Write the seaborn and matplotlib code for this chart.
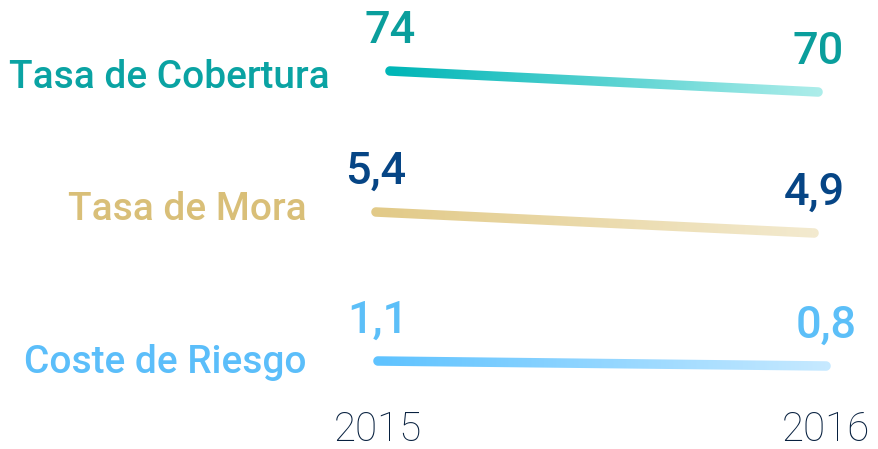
import numpy as np
import pandas as pd
import seaborn as sns
import matplotlib
matplotlib.use("Agg")
import matplotlib.pyplot as plt
from matplotlib.colors import LinearSegmentedColormap, Normalize
from matplotlib.patches import PathPatch
from matplotlib.path import Path
from matplotlib.transforms import IdentityTransform

# ---------------- data ----------------
years = [2015, 2016]
year_labels = ["2015", "2016"]
metrics = ["Tasa de Cobertura", "Tasa de Mora", "Coste de Riesgo"]
cobertura = [74, 70]
mora = [5.4, 4.9]
riesgo = [1.1, 0.8]
cobertura_labels = ["74", "70"]
mora_labels = ["5,4", "4,9"]
riesgo_labels = ["1,1", "0,8"]

# ---------------- style ----------------
sns.set_theme(style="white")
plt.rcParams["font.family"] = ["Roboto", "DejaVu Sans"]

W, H = 879, 449
DPI = 100
fig = plt.figure(figsize=(W / DPI, H / DPI), dpi=DPI)
fig.patch.set_facecolor("white")

rows = [
    dict(name=metrics[0], vals=cobertura, labels=cobertura_labels,
         px=(390, 818), py=(71, 92), label_right=330, label_base=88,
         text_color="#0AA3A3", val_color="#0A9E9C",
         c0="#00B6B7", c1="#ACEDEA"),
    dict(name=metrics[1], vals=mora, labels=mora_labels,
         px=(376, 814), py=(212, 233), label_right=307, label_base=220,
         text_color="#D9BF78", val_color="#064585",
         c0="#E2CA88", c1="#F3EACF"),
    dict(name=metrics[2], vals=riesgo, labels=riesgo_labels,
         px=(378, 826), py=(361, 366), label_right=307, label_base=373,
         text_color="#5BBEFA", val_color="#5CBFF8",
         c0="#5FC3FF", c1="#C6E9FF"),
]

LW_PX = 9.5
for i, r in enumerate(rows):
    x0, x1 = r["px"]
    ytop, ybot = min(r["py"]), max(r["py"])
    ax = fig.add_axes([x0 / W, 1 - ybot / H, (x1 - x0) / W, (ybot - ytop) / H])
    df = pd.DataFrame({"year": years, "value": r["vals"]})
    sns.lineplot(data=df, x="year", y="value", ax=ax, color=r["c0"],
                 linewidth=LW_PX * 72 / DPI, solid_capstyle="round", clip_on=False)
    ax.set_xlim(years[0], years[1])
    ax.set_ylim(min(r["vals"]), max(r["vals"]))
    ax.set_facecolor("none")
    for s in ax.spines.values():
        s.set_visible(False)
    ax.set_xlabel("")
    ax.set_ylabel("")
    ax.set_yticks([])
    if i < len(rows) - 1:
        ax.set_xticks([])
    else:
        ax.set_xticks(years)
        ax.set_xticklabels(year_labels, fontsize=29, fontweight="light",
                           color="#07203F")
        ax.tick_params(axis="x", length=0, pad=32)
    # value labels
    for yr, v, lab in zip(years, r["vals"], r["labels"]):
        ax.annotate(lab, (yr, v), xytext=(0, 20), textcoords="offset points",
                    ha="center", va="baseline", fontsize=32.5,
                    fontweight="medium", color=r["val_color"],
                    annotation_clip=False)
    # metric label
    fig.text(r["label_right"] / W, 1 - r["label_base"] / H, r["name"],
             ha="right", va="baseline", fontsize=28, fontweight="medium",
             color=r["text_color"])
    r["ax"] = ax

# ---------------- gradient strokes ----------------
fig.canvas.draw()
for r in rows:
    ax = r["ax"]
    line = ax.lines[0]
    pts = ax.transData.transform(line.get_xydata())
    p0, p1 = pts[0], pts[-1]
    d = (p1 - p0) / np.hypot(*(p1 - p0))
    ang = np.arctan2(d[1], d[0]) + np.pi / 2
    rad = LW_PX / 2
    t0 = np.linspace(ang, ang + np.pi, 24)
    t1 = np.linspace(ang + np.pi, ang + 2 * np.pi, 24)
    poly = np.vstack([
        p0 + rad * np.column_stack([np.cos(t0), np.sin(t0)]),
        p1 + rad * np.column_stack([np.cos(t1), np.sin(t1)]),
    ])
    poly = np.vstack([poly, poly[:1]])
    clip = PathPatch(Path(poly, closed=True), transform=IdentityTransform())
    cmap = LinearSegmentedColormap.from_list("g", [r["c0"], r["c1"]])
    ylo, yhi = ax.get_ylim()
    span = yhi - ylo
    m = 0.05
    xs = np.linspace(years[0] - m, years[1] + m, 600)
    im = ax.imshow(xs[None, :], cmap=cmap, norm=Normalize(years[0], years[1]),
                   extent=[years[0] - m, years[1] + m, ylo - 2 * span, yhi + 2 * span],
                   aspect="auto", interpolation="bilinear", zorder=3)
    im.set_clip_box(fig.bbox)
    im.set_clip_path(clip)
    line.set_visible(False)
    ax.set_xlim(years[0], years[1])
    ax.set_ylim(ylo, yhi)

fig.savefig("out.png", dpi=DPI, facecolor="white")
